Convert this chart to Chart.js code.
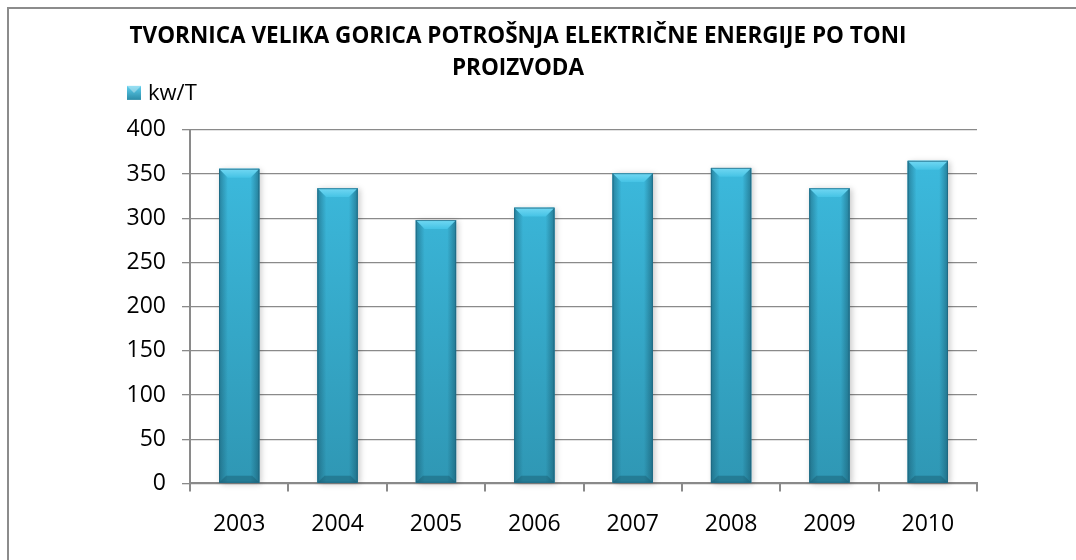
<!DOCTYPE html>
<html>
<head>
<meta charset="utf-8">
<script src="https://cdn.jsdelivr.net/npm/chart.js@4.4.0/dist/chart.umd.min.js"></script>
<style>
  html, body { margin: 0; padding: 0; background: #fff; }
  #wrap { position: relative; width: 1076px; height: 560px; overflow: hidden; }
  #frame { position: absolute; left: 7px; top: 7px; width: 1100px; height: 600px; border: 2px solid #8c8c8c; box-sizing: border-box; }
  canvas { position: absolute; left: 0; top: 0; }
</style>
</head>
<body>
<div id="wrap">
  <div id="frame"></div>
  <canvas id="c" width="1076" height="560"></canvas>
</div>
<script>
const titleLines = ["TVORNICA VELIKA GORICA POTROŠNJA ELEKTRIČNE ENERGIJE PO TONI", "PROIZVODA"];
const categories = ["2003", "2004", "2005", "2006", "2007", "2008", "2009", "2010"];
const seriesLabel = "kw/T";
const values = [356, 334, 298, 312, 351, 357, 334, 365];
const yTicks = [0, 50, 100, 150, 200, 250, 300, 350, 400];

const FONT = "'Open Sans', 'Noto Sans', sans-serif";

const barBevel = {
  id: 'barBevel',
  beforeDatasetsDraw(chart) {
    const ctx = chart.ctx;
    const meta = chart.getDatasetMeta(0);
    ctx.save();
    meta.data.forEach(el => {
      const w = el.width, l = el.x - w / 2, t = el.y, b = el.base;
      ctx.shadowColor = 'rgba(0,0,0,0.22)';
      ctx.shadowBlur = 6;
      ctx.shadowOffsetX = 2;
      ctx.shadowOffsetY = 1;
      ctx.fillStyle = '#2e93b0';
      ctx.fillRect(l, t, w, b - t);
    });
    ctx.restore();
  },
  afterDatasetsDraw(chart) {
    const ctx = chart.ctx;
    const meta = chart.getDatasetMeta(0);
    ctx.save();
    meta.data.forEach(el => {
      const w = el.width, l = el.x - w / 2, r = el.x + w / 2, t = el.y, b = el.base;
      const d = Math.min(9, w * 0.22);
      let g = ctx.createLinearGradient(l, 0, l + d, 0);
      g.addColorStop(0, 'rgba(20,80,100,0.5)');
      g.addColorStop(1, 'rgba(20,80,100,0)');
      ctx.fillStyle = g;
      ctx.fillRect(l, t, d, b - t);
      g = ctx.createLinearGradient(r - d, 0, r, 0);
      g.addColorStop(0, 'rgba(20,80,100,0)');
      g.addColorStop(1, 'rgba(20,80,100,0.55)');
      ctx.fillStyle = g;
      ctx.fillRect(r - d, t, d, b - t);
      ctx.beginPath();
      ctx.moveTo(l, t); ctx.lineTo(r, t); ctx.lineTo(r - d, t + d); ctx.lineTo(l + d, t + d); ctx.closePath();
      g = ctx.createLinearGradient(0, t, 0, t + d);
      g.addColorStop(0, '#72d8f3');
      g.addColorStop(1, '#45c3e5');
      ctx.fillStyle = g;
      ctx.fill();
      ctx.beginPath();
      ctx.moveTo(l, b); ctx.lineTo(r, b); ctx.lineTo(r - d * 0.8, b - d * 0.8); ctx.lineTo(l + d * 0.8, b - d * 0.8); ctx.closePath();
      ctx.fillStyle = 'rgba(25,90,110,0.45)';
      ctx.fill();
      ctx.strokeStyle = 'rgba(30,100,125,0.7)';
      ctx.lineWidth = 1;
      ctx.strokeRect(l + 0.5, t + 0.5, w - 1, b - t - 1);
    });
    ctx.restore();
  }
};

const customLegend = {
  id: 'customLegend',
  afterDraw(chart) {
    const ctx = chart.ctx;
    const ca = chart.chartArea;
    const x = ca.left - 63, y = ca.top - 37;
    ctx.save();
    const g = ctx.createLinearGradient(x, y - 7, x, y + 7);
    g.addColorStop(0, '#5fd0ef');
    g.addColorStop(1, '#2b8ca8');
    ctx.fillStyle = g;
    ctx.fillRect(x, y - 7, 14, 14);
    ctx.fillStyle = 'rgba(255,255,255,0.35)';
    ctx.beginPath(); ctx.moveTo(x, y - 7); ctx.lineTo(x + 14, y - 7); ctx.lineTo(x + 7, y); ctx.closePath(); ctx.fill();
    ctx.fillStyle = '#000';
    ctx.font = "22px " + FONT;
    ctx.textBaseline = 'middle';
    ctx.textAlign = 'left';
    ctx.fillText(chart.data.datasets[0].label, x + 21, y + 1);
    ctx.restore();
  }
};

new Chart(document.getElementById('c'), {
  type: 'bar',
  data: {
    labels: categories,
    datasets: [{
      label: seriesLabel,
      data: values,
      backgroundColor: (c) => {
        const ca = c.chart.chartArea;
        if (!ca) return '#38b0d3';
        const g = c.chart.ctx.createLinearGradient(0, ca.top, 0, ca.bottom);
        g.addColorStop(0, '#3dbde1');
        g.addColorStop(1, '#2f97b4');
        return g;
      },
      borderWidth: 0,
      barPercentage: 0.41,
      categoryPercentage: 1.0
    }]
  },
  options: {
    responsive: false,
    animation: false,
    devicePixelRatio: 1,
    layout: { padding: { left: 59, right: 99, top: 15, bottom: 3 } },
    plugins: {
      legend: { display: false },
      tooltip: { enabled: false },
      title: {
        display: true,
        text: titleLines,
        color: '#000',
        font: { family: FONT, size: 22.5, weight: 'bold', lineHeight: 1.42 },
        padding: { top: 6, bottom: 45 }
      }
    },
    scales: {
      y: {
        min: 0, max: 400,
        afterBuildTicks: (s) => { s.ticks = yTicks.map(v => ({ value: v })); },
        afterFit: (s) => { s.width = 131; },
        grid: { color: '#8a8a8a', lineWidth: 1.3, tickLength: 8, drawTicks: true },
        border: { color: '#8a8a8a', width: 2 },
        ticks: { color: '#000', font: { family: FONT, size: 23 }, padding: 16 }
      },
      x: {
        grid: { display: true, drawOnChartArea: false, color: '#8a8a8a', lineWidth: 2, tickLength: 8, offset: true },
        border: { color: '#8a8a8a', width: 2 },
        ticks: { color: '#000', font: { family: FONT, size: 23 }, padding: 19 }
      }
    }
  },
  plugins: [barBevel, customLegend]
});
</script>
</body>
</html>
